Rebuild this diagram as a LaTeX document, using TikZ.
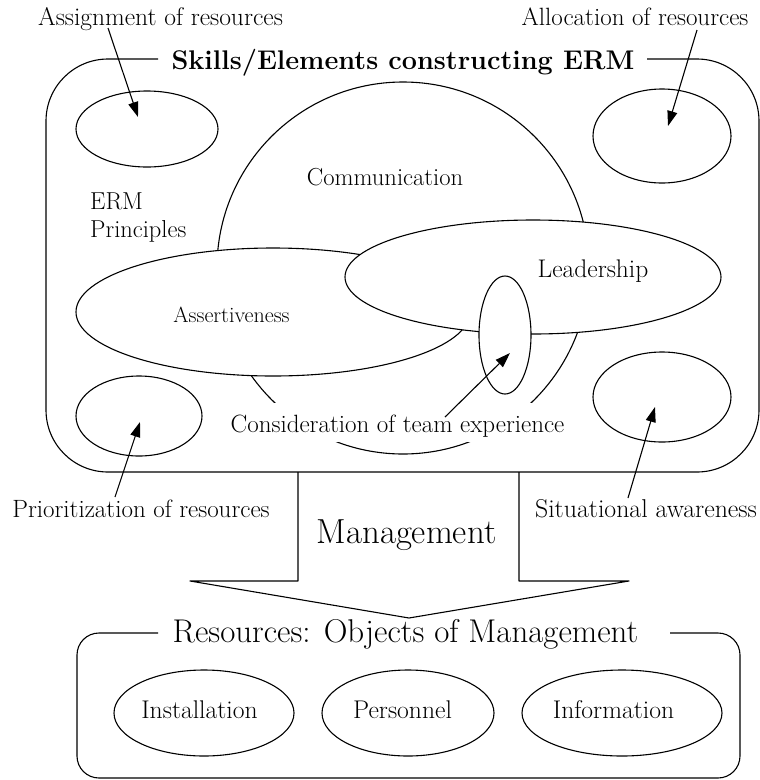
\documentclass[tikz,border=0pt]{standalone}
\usepackage{fontspec}
\usetikzlibrary{shapes.geometric,arrows.meta}
\begin{document}
\begin{tikzpicture}[x=1pt,y=-1pt,
  ln/.style={line width=1.1pt},
  ell/.style={ellipse, draw, ln, inner sep=0pt, fill=white},
  lbl/.style={font=\fontsize{25pt}{30pt}\selectfont, inner sep=0pt, anchor=base},
  res/.style={font=\fontsize{25.6pt}{30pt}\selectfont, inner sep=0pt, anchor=base},
  arr/.style={ln, -{Triangle[length=15pt,width=10pt]}}]
\useasboundingbox (0,0) rectangle (760,780);

% outer boxes
\draw[ln, rounded corners=62pt] (158,59) -- (46,59) -- (46,472) -- (759,472) -- (759,59) -- (647,59);
\draw[ln, rounded corners=22pt] (158,633) -- (77,633) -- (77,778) -- (740,778) -- (740,633) -- (670,633);

% management block arrow
\draw[ln, line join=round] (298,472) -- (298,581) -- (190,581) -- (409,618) -- (629,581) -- (519,581) -- (519,472);

% corner ellipses
\node[ell, minimum width=142pt, minimum height=76pt] (eTL) at (147,129) {};
\node[ell, minimum width=138pt, minimum height=94pt] (eTR) at (662,136) {};
\node[ell, minimum width=126pt, minimum height=80pt] (eBL) at (139,416) {};
\node[ell, minimum width=138pt, minimum height=90pt] (eBR) at (662,397) {};

% overlapping skills
\node[ell, minimum width=372pt, minimum height=372pt] (eComm) at (403,268) {};
\node[ell, minimum width=394pt, minimum height=128pt] (eAss) at (273,312) {};
\node[ell, minimum width=376pt, minimum height=114pt] (eLead) at (533,277) {};
\node[ell, minimum width=52pt, minimum height=118pt] (eCons) at (505,335) {};

% resources ellipses
\node[ell, minimum width=180pt, minimum height=86pt] (eInst) at (204,713) {};
\node[ell, minimum width=172pt, minimum height=86pt] (ePers) at (408,713) {};
\node[ell, minimum width=200pt, minimum height=86pt] (eInfo) at (622,713) {};

% titles
\node[font=\fontsize{27pt}{32pt}\selectfont\bfseries, inner sep=0pt, anchor=base] (tSkills) at (403,69) {Skills/Elements constructing ERM};
\node[font=\fontsize{32.9pt}{38pt}\selectfont, inner sep=0pt, anchor=base] (tRes) at (405.5,642) {Resources: Objects of Management};
\node[font=\fontsize{34.8pt}{40pt}\selectfont, inner sep=0pt, anchor=base] (tMan) at (406.5,543) {Management};

% labels
\node[lbl, font=\fontsize{25.5pt}{30pt}\selectfont] (tAssign) at (160.5,25) {Assignment of resources};
\node[lbl] (tAlloc) at (635,25) {Allocation of resources};
\node[lbl] (tPrio) at (141,517) {Prioritization of resources};
\node[lbl, font=\fontsize{25.8pt}{30pt}\selectfont] (tSit) at (646,517) {Situational awareness};
\node[lbl, font=\fontsize{24.6pt}{30pt}\selectfont] (tComm) at (385,185) {Communication};
\node[lbl, font=\fontsize{25.5pt}{30pt}\selectfont] (tLead) at (593,277) {Leadership};
\node[font=\fontsize{22pt}{26pt}\selectfont, inner sep=0pt, anchor=base] (tAss) at (231.5,322) {Assertiveness};
\node[font=\fontsize{24.5pt}{28pt}\selectfont, inner sep=0pt, anchor=base west] (tERM) at (90,209) {ERM};
\node[font=\fontsize{24.5pt}{28pt}\selectfont, inner sep=0pt, anchor=base west] (tPrin) at (90,237) {Principles};
\node[lbl, fill=white, text height=29pt, text depth=10pt] (tCons) at (397.5,432) {Consideration of team experience};
\node[res] (tInst) at (199.5,718) {Installation};
\node[res] (tPers) at (402.5,718) {Personnel};
\node[res] (tInfo) at (613.5,718) {Information};

% arrows
\coordinate (aAsT) at (108,28);  \coordinate (aAsH) at (138,117);
\coordinate (aAlT) at (697,30);  \coordinate (aAlH) at (668,126);
\coordinate (aPrT) at (115,497); \coordinate (aPrH) at (140,422);
\coordinate (aSiT) at (628,498); \coordinate (aSiH) at (655,407);
\coordinate (aCoT) at (445,417); \coordinate (aCoH) at (510,353);
\draw[arr] (aAsT) -- (aAsH);
\draw[arr] (aAlT) -- (aAlH);
\draw[arr] (aPrT) -- (aPrH);
\draw[arr] (aSiT) -- (aSiH);
\draw[arr] (aCoT) -- (aCoH);
\end{tikzpicture}
\end{document}
